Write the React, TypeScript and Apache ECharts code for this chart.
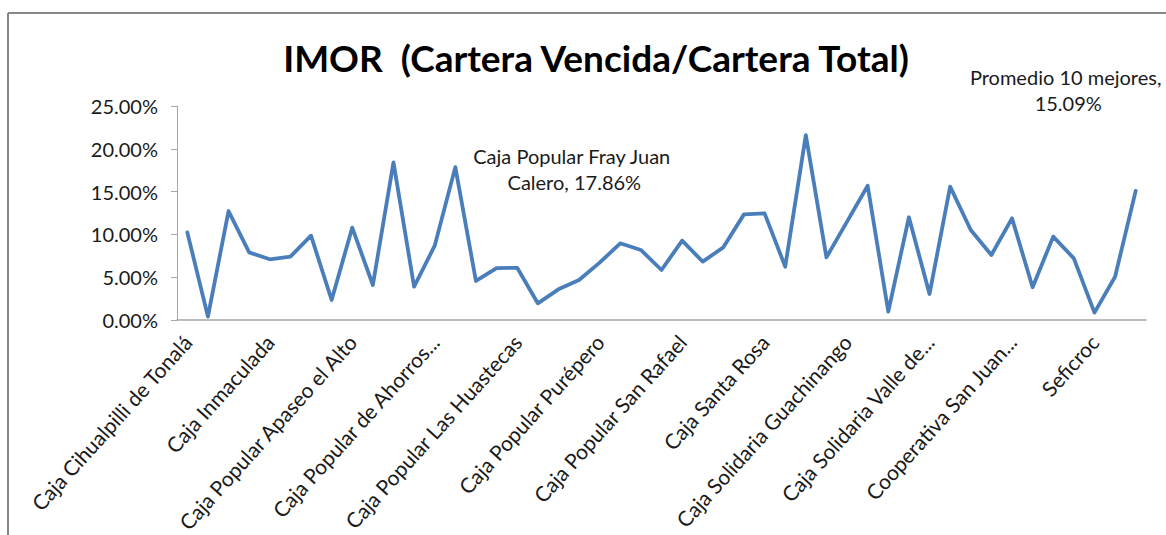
import React, { useEffect, useRef } from "react";
import * as echarts from "echarts";

const chartTitle = "IMOR  (Cartera Vencida/Cartera Total)";

const categories = [
  "Caja Cihualpilli de Tonalá",
  "Caja Cristo Rey",
  "Caja de la Sierra Gorda",
  "Caja Gonzalo Vega",
  "Caja Inmaculada",
  "Caja Morelia Valladolid",
  "Caja Nueva Galicia",
  "Caja Popular Acatlán",
  "Caja Popular Apaseo el Alto",
  "Caja Popular Cerano",
  "Caja Popular Cristóbal Colón",
  "Caja Popular Chilapa",
  "Caja Popular de Ahorros...",
  "Caja Popular Fray Juan Calero",
  "Caja Popular Florencio Rosas",
  "Caja Popular La Providencia",
  "Caja Popular Las Huastecas",
  "Caja Popular Mexicana",
  "Caja Popular Otilio Montaño",
  "Caja Popular Pío XII",
  "Caja Popular Purépero",
  "Caja Popular Rosario",
  "Caja Popular San Bernardino",
  "Caja Popular San Pablo",
  "Caja Popular San Rafael",
  "Caja Popular Tepeyac",
  "Caja Real del Potosí",
  "Caja San Nicolás",
  "Caja Santa Rosa",
  "Caja Sierra Gorda",
  "Caja SMG",
  "Caja Solidaria Chinipas",
  "Caja Solidaria Guachinango",
  "Caja Solidaria Jala",
  "Caja Solidaria Kondoy",
  "Caja Solidaria San Dionisio",
  "Caja Solidaria Valle de...",
  "Caja Tamazula",
  "Coopdesarrollo",
  "Cooperativa Acreimex",
  "Cooperativa San Juan...",
  "Cooperativa Tosepantomin",
  "Cosechando Juntos",
  "Red Eco de la Montaña",
  "Seficroc",
  "Unión de Crédito",
  "Promedio 10 mejores",
];

const imorValues = [
  0.1024, 0.0039, 0.1273, 0.079, 0.0709, 0.074, 0.0985, 0.0234, 0.1079, 0.0409,
  0.1842, 0.0389, 0.0868, 0.1786, 0.0456, 0.0607, 0.061, 0.0195, 0.0358, 0.0467,
  0.067, 0.0896, 0.0818, 0.0584, 0.0927, 0.0682, 0.0849, 0.1234, 0.1246, 0.0623,
  0.216, 0.0732, 0.1149, 0.1569, 0.0097, 0.12, 0.0304, 0.1558, 0.1051, 0.0759,
  0.1188, 0.0382, 0.0974, 0.072, 0.0086, 0.0506, 0.1509,
];

const labelledPoints = [13, 46];

const yTicks = [0, 0.05, 0.1, 0.15, 0.2, 0.25];

const FONT = "Lato, 'Open Sans', sans-serif";

export default function App() {
  const ref = useRef<HTMLDivElement>(null);

  useEffect(() => {
    if (!ref.current) return;
    const chart = echarts.init(ref.current, undefined, { renderer: "svg" });

    const labelOffsets: Record<number, [number, number]> = {
      13: [119, 2],
      46: [-70, -101],
    };

    const seriesData = imorValues.map((v, i) => {
      if (labelledPoints.includes(i)) {
        return {
          value: v,
          label: {
            show: true,
            position: "inside",
            offset: labelOffsets[i],
            formatter: (p: any) =>
              `${p.name}, ${(p.value * 100).toFixed(2)}%`,
            width: i === 13 ? 235 : 196,
            overflow: "break",
            align: "center",
            fontFamily: FONT,
            fontSize: 20,
            lineHeight: 26,
            color: "#1a1a1a",
          },
        };
      }
      return { value: v };
    });

    chart.setOption({
      animation: false,
      backgroundColor: "#ffffff",
      title: {
        text: chartTitle,
        left: 591,
        top: 34,
        textAlign: "center",
        textStyle: {
          fontFamily: FONT,
          fontWeight: "bold",
          fontSize: 37,
          color: "#000000",
        },
      },
      graphic: [
        {
          type: "line",
          shape: { x1: 8, y1: 13, x2: 1166, y2: 13 },
          style: { stroke: "#888888", lineWidth: 2 },
        },
        {
          type: "line",
          shape: { x1: 8, y1: 13, x2: 8, y2: 535 },
          style: { stroke: "#888888", lineWidth: 2 },
        },
      ],
      grid: {
        left: 177,
        right: 20,
        top: 106,
        bottom: 215,
        containLabel: false,
        outerBoundsMode: "none",
      },
      xAxis: {
        type: "category",
        data: categories,
        boundaryGap: true,
        axisLine: { show: true, lineStyle: { color: "#A6A6A6", width: 1.5 } },
        axisTick: { show: false },
        axisLabel: {
          interval: 3,
          rotate: 48,
          margin: 18,
          fontFamily: FONT,
          fontSize: 21,
          color: "#1a1a1a",
        },
      },
      yAxis: {
        type: "value",
        min: 0,
        max: 0.25,
        interval: 0.05,
        axisLine: { show: true, lineStyle: { color: "#A6A6A6", width: 1 } },
        axisTick: { show: true, inside: false, length: 6, lineStyle: { color: "#A6A6A6" } },
        splitLine: { show: false },
        axisLabel: {
          margin: 19,
          fontFamily: FONT,
          fontSize: 20,
          color: "#1a1a1a",
          formatter: (v: number) =>
            yTicks.some((t) => Math.abs(t - v) < 1e-9) ? `${(v * 100).toFixed(2)}%` : "",
        },
      },
      series: [
        {
          type: "line",
          data: seriesData,
          symbol: "circle",
          symbolSize: 1,
          showSymbol: true,
          itemStyle: { color: "#4A7EBB" },
          lineStyle: { color: "#4A7EBB", width: 3.8, join: "round", cap: "round" },
        },
      ],
    });

    return () => chart.dispose();
  }, []);

  return (
    <div
      ref={ref}
      style={{ position: "fixed", left: 0, top: 0, width: 1166, height: 535 }}
    />
  );
}
